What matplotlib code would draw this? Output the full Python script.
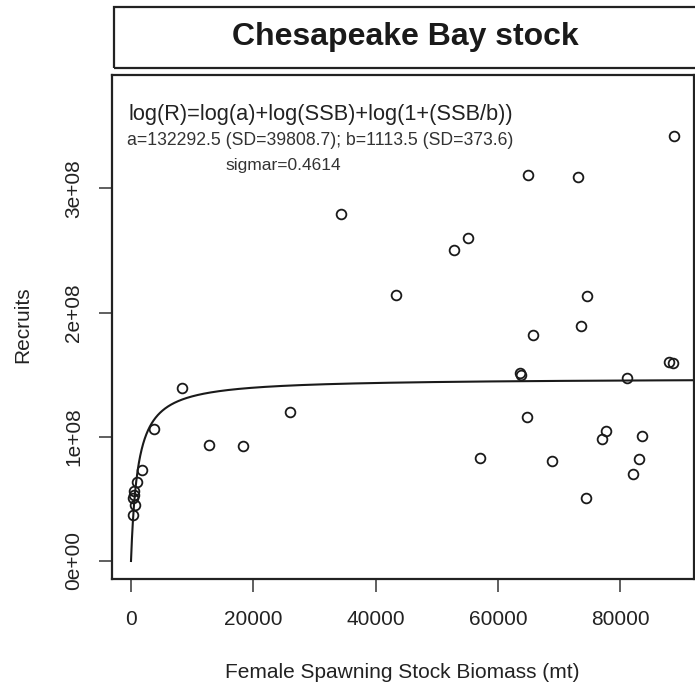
import numpy as np
import matplotlib
matplotlib.use('Agg')
import matplotlib.pyplot as plt
from matplotlib.patches import Rectangle

plt.rcParams['font.family'] = ['Liberation Sans', 'DejaVu Sans']

# female spawning stock biomass (mt) and recruits
ssb = [88850, 64970, 73050, 34340, 55160, 52770, 43340, 74570, 73540, 65790,
       63600, 63800, 81160, 88000, 88600, 64710, 77630, 76970, 83570, 83130,
       82100, 68900, 74410, 57070, 8290, 26000, 12800, 18260, 3760, 1750,
       900, 450, 350, 650, 250, 550]
recruits = [3.42e8, 3.105e8, 3.09e8, 2.79e8, 2.60e8, 2.50e8, 2.14e8, 2.135e8, 1.89e8, 1.82e8,
            1.51e8, 1.50e8, 1.47e8, 1.60e8, 1.595e8, 1.16e8, 1.05e8, 0.98e8, 1.01e8, 0.82e8,
            0.70e8, 0.805e8, 0.51e8, 0.827e8, 1.39e8, 1.20e8, 0.934e8, 0.923e8, 1.06e8, 0.735e8,
            0.64e8, 0.56e8, 0.505e8, 0.45e8, 0.37e8, 0.53e8]

# fitted parameters printed on the chart
a = 132292.5
b = 1113.5

x_ticks = [0, 20000, 40000, 60000, 80000]
x_ticklabels = ['0', '20000', '40000', '60000', '80000']
y_ticks = [0, 1e8, 2e8, 3e8]
y_ticklabels = ['0e+00', '1e+08', '2e+08', '3e+08']

W, H = 695, 688
fig = plt.figure(figsize=(W / 100, H / 100), dpi=100)

# plot frame in pixels
left, right, top, bottom = 111.5, 693.5, 75, 579
ax = fig.add_axes([left / W, 1 - bottom / H, (right - left) / W, (bottom - top) / H])

txt = '#222222'
ssb_line = np.linspace(0, 92000, 3000)
fit = a * ssb_line / (1 + ssb_line / b)
ax.plot(ssb_line, fit, color='#1a1a1a', lw=1.5)
ax.plot(ssb, recruits, 'o', mfc='none', mec='#1a1a1a', ms=7, mew=1.3)

ax.set_xlim(-3189, 91986)
ax.set_ylim(-0.145e8, 3.913e8)
ax.set_xticks(x_ticks)
ax.set_xticklabels(x_ticklabels)
ax.set_yticks(y_ticks)
ax.set_yticklabels(y_ticklabels, rotation=90, va='center')
ax.tick_params(direction='out', length=9.5, width=1.2, color='#444444',
               labelsize=15, labelcolor=txt, pad=11)
ax.tick_params(axis='x', pad=13)
for s in ax.spines.values():
    s.set_linewidth(1.6)
    s.set_color('#222222')

ax.text(-490, 3.551e8, 'log(R)=log(a)+log(SSB)+log(1+(SSB/b))', fontsize=15.7,
        color=txt, va='baseline', ha='left')
ax.text(-700, 3.349e8, 'a=132292.5 (SD=39808.7); b=1113.5 (SD=373.6)', fontsize=12.7,
        color='#333333', va='baseline', ha='left')
ax.text(15372, 3.148e8, 'sigmar=0.4614', fontsize=12.5,
        color='#333333', va='baseline', ha='left')

fig.text(402 / W, 1 - 672 / H, 'Female Spawning Stock Biomass (mt)', fontsize=15,
         color=txt, ha='center', va='center')
fig.text(23 / W, 1 - 325 / H, 'Recruits', fontsize=15, color=txt,
         ha='center', va='center', rotation=90)

# title box
fig.patches.append(Rectangle((114 / W, 1 - 68 / H), (710 - 114) / W, 61 / H,
                             transform=fig.transFigure, fill=False,
                             edgecolor='#222222', lw=1.6))
fig.text(405 / W, 1 - 37.5 / H, 'Chesapeake Bay stock', fontsize=23, fontweight='bold',
         color='#1a1a1a', ha='center', va='center')

fig.savefig('out.png', dpi=100)
